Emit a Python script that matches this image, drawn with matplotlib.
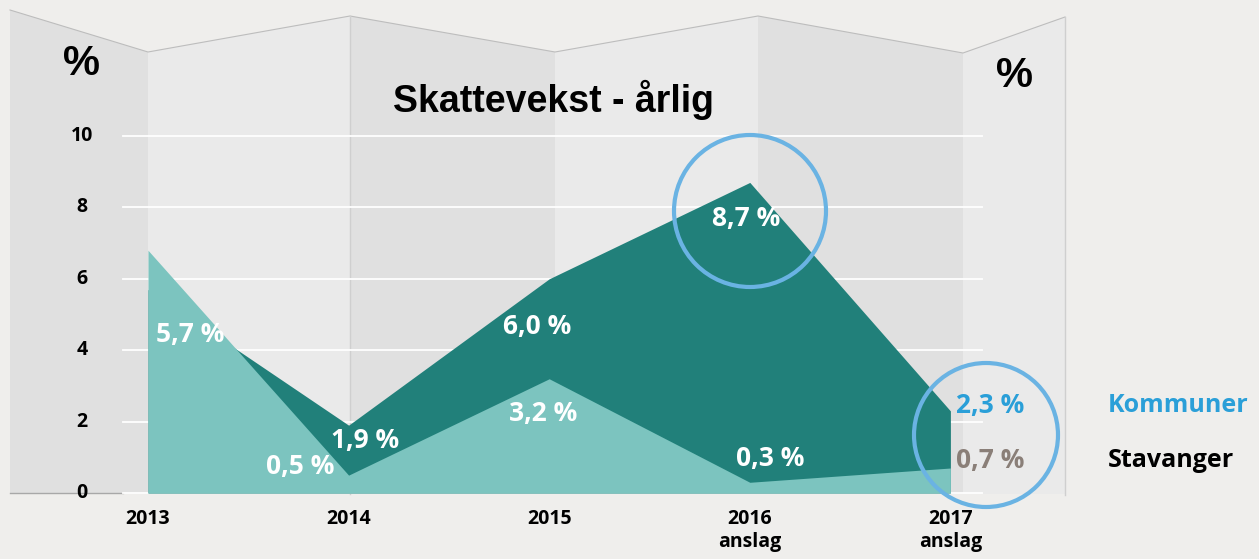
import matplotlib
matplotlib.use("Agg")
import matplotlib.pyplot as plt
from matplotlib.patches import Polygon, Circle

# data
years = [2013, 2014, 2015, 2016, 2017]
year_labels = ["2013", "2014", "2015", "2016\nanslag", "2017\nanslag"]
kommuner = [5.7, 1.9, 6.0, 8.7, 2.3]
stavanger = [6.8, 0.5, 3.2, 0.3, 0.7]
yticks = [0, 2, 4, 6, 8, 10]

dark = "#21807a"
light = "#7cc4bf"
blue = "#2a9fd8"
ring = "#6ab3e3"
bgcol = "#efeeec"
tickfont = "Open Sans"

fig = plt.figure(figsize=(12.59, 5.59), dpi=100)
fig.patch.set_facecolor(bgcol)

# background "folded paper" panels, pixel coordinates
bg = fig.add_axes([0, 0, 1, 1])
bg.set_xlim(0, 1259)
bg.set_ylim(559, 0)
bg.axis("off")
folds_x = [10, 148, 350, 555, 758, 963, 1065]
folds_top = [10, 52, 16, 52, 16, 53, 17]
for i in range(len(folds_x) - 1):
    x0, x1 = folds_x[i], folds_x[i + 1]
    t0, t1 = folds_top[i], folds_top[i + 1]
    col = "#e0e0e0" if i % 2 == 0 else "#eaeaea"
    bg.add_patch(Polygon([(x0, t0), (x1, t1), (x1, 494), (x0, 494)],
                         closed=True, fc=col, ec="none"))
bg.plot(folds_x, folds_top, color="#bdbdbd", lw=0.8)
bg.plot([350, 350], [16, 494], color="#cfcfcf", lw=1)
bg.plot([1065, 1065], [17, 495], color="#cfcfcf", lw=1)
bg.plot([10, 123], [493, 493], color="#a8a8a8", lw=1)

# data axes, spanning the whole figure
ax = fig.add_axes([0, 0, 1, 1])
ax.patch.set_alpha(0)
ax.set_xlim(2012.2622, 2018.5384)
ax.set_ylim(-1.849, 13.81)
ax.axis("off")

for v in yticks:
    ax.plot([2012.875, 2017.157], [v, v], color="white", lw=1.3, zorder=1)
    ax.text(2012.671, v, str(v), ha="center", va="center", fontsize=14,
            fontweight="bold", family=tickfont, color="black")

ax.fill_between(years, 0, kommuner, color=dark, lw=0, zorder=2)
ax.fill_between(years, 0, stavanger, color=light, lw=0, zorder=3)

for y, lab in zip(years, year_labels):
    ax.text(y, -0.45, lab, ha="center", va="top", fontsize=14,
            fontweight="bold", family=tickfont, linespacing=1.2)

# rings
ax.add_patch(Circle((750, 211), 76, transform=bg.transData, fill=False,
                    ec=ring, lw=3, zorder=4))
ax.add_patch(Circle((986, 435), 72, transform=bg.transData, fill=False,
                    ec=ring, lw=3, zorder=4))

def pct(v):
    return ("%.1f %%" % v).replace(".", ",")

lab_kw = dict(ha="center", va="center", fontsize=19, fontweight="bold",
              family=tickfont, zorder=5)
# value labels (offsets relative to the points)
ax.text(years[0] + 0.21, kommuner[0] - 1.27, pct(kommuner[0]), color="white", **lab_kw)
ax.text(years[1] + 0.08, kommuner[1] - 0.42, pct(kommuner[1]), color="white", **lab_kw)
ax.text(years[2] - 0.06, kommuner[2] - 1.35, pct(kommuner[2]), color="white", **lab_kw)
ax.text(years[3] - 0.02, kommuner[3] - 1.0, pct(kommuner[3]), color="white", **lab_kw)
ax.text(years[4] + 0.20, kommuner[4] + 0.16, pct(kommuner[4]), color=blue, **lab_kw)
ax.text(years[1] - 0.24, stavanger[1] + 0.23, pct(stavanger[1]), color="white", **lab_kw)
ax.text(years[2] - 0.03, stavanger[2] - 0.96, pct(stavanger[2]), color="white", **lab_kw)
ax.text(years[3] + 0.10, stavanger[3] + 0.68, pct(stavanger[3]), color="white", **lab_kw)
ax.text(years[4] + 0.20, stavanger[4] + 0.22, pct(stavanger[4]), color="#8a7f78", **lab_kw)

leg_kw = dict(ha="left", va="center", fontsize=18, fontweight="bold",
              family=tickfont, zorder=5)
ax.text(2017.786, kommuner[4] + 0.16, "Kommuner", color=blue, **leg_kw)
ax.text(2017.786, stavanger[4] + 0.22, "Stavanger", color="black", **leg_kw)

# title and units
bg.text(554, 100, "Skattevekst - årlig", ha="center", va="center",
        fontsize=27, fontweight="bold", family="Liberation Sans")
bg.text(82, 64, "%", ha="center", va="center", fontsize=30,
        fontweight="bold", family="Liberation Sans")
bg.text(1015, 76, "%", ha="center", va="center", fontsize=30,
        fontweight="bold", family="Liberation Sans")

fig.savefig("out.png", dpi=100, facecolor=fig.get_facecolor())
